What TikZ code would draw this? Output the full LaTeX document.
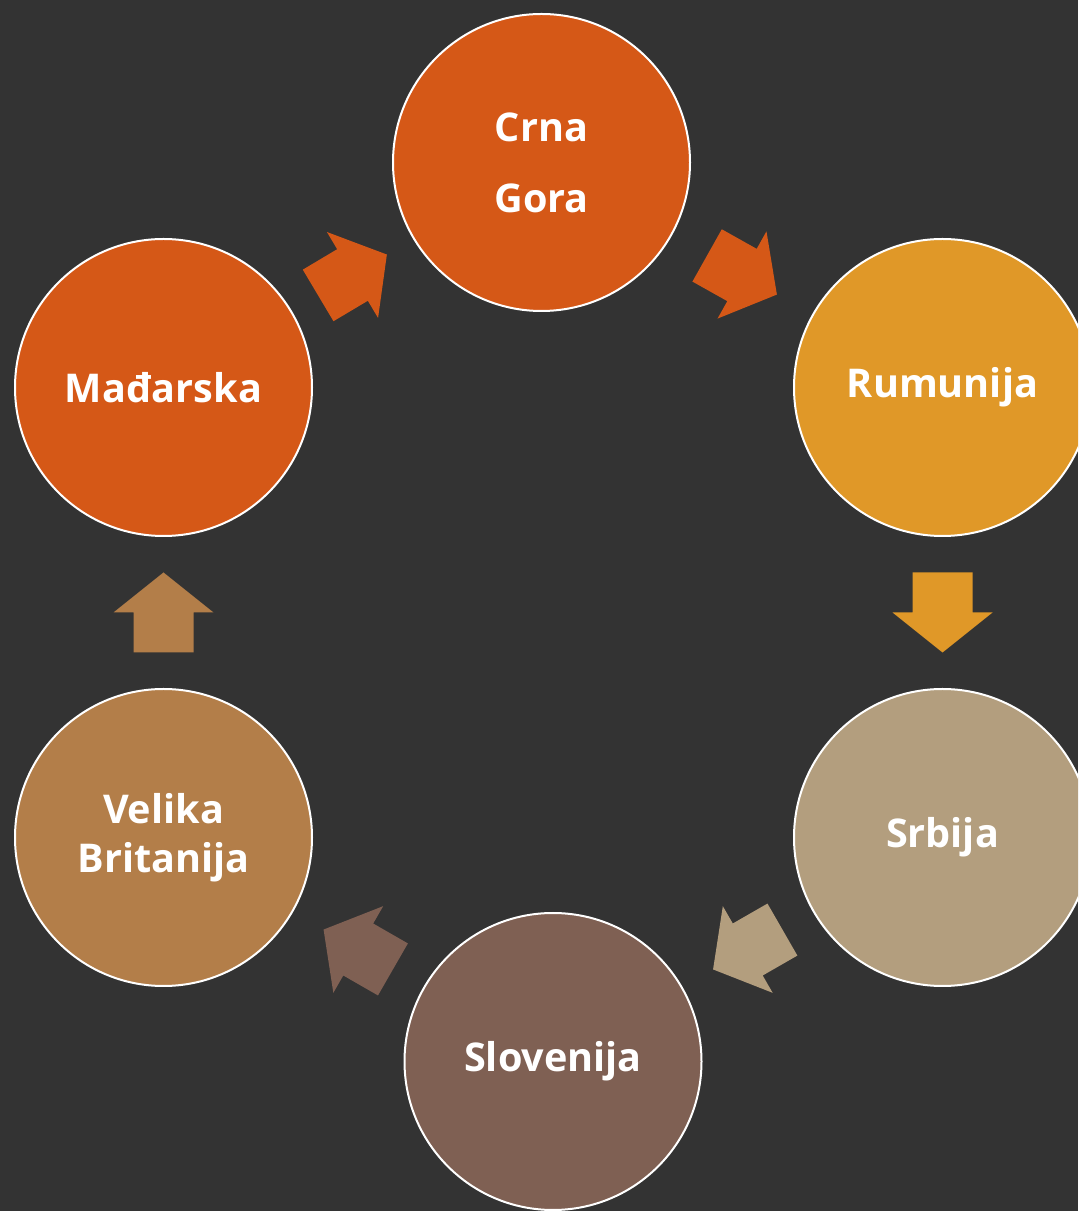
\documentclass[tikz,border=0pt]{standalone}
\usepackage{fontspec}
\setmainfont{Open Sans}
\usetikzlibrary{calc}
\definecolor{bgc}{HTML}{333333}
\definecolor{cOrange}{HTML}{D55817}
\definecolor{cGold}{HTML}{E09828}
\definecolor{cTan}{HTML}{B39E7E}
\definecolor{cBrown}{HTML}{7F6053}
\definecolor{cCaramel}{HTML}{B37E49}
\tikzset{
  country/.style={circle, draw=white, line width=1pt, minimum size=148.5pt,
    inner sep=0pt, text=white, align=center,
    font=\fontsize{19.8}{24.5}\selectfont\bfseries},
  blockarrow/.pic={\fill (-40,-30) -- (0,-30) -- (0,-50) -- (40,0) -- (0,50) -- (0,30) -- (-40,30) -- cycle;}
}
\newcommand\cyclearrow[3]{%
  \path let \p1=($(#2)-(#1)$), \n1={atan2(\y1,\x1)} in
    ($(#1)!0.5!(#2)$) pic[rotate=\n1, fill=#3]{blockarrow};}
\begin{document}
\begin{tikzpicture}[x=0.5pt,y=0.5pt]
\useasboundingbox (0,0) rectangle (1078,1211);
\clip (0,0) rectangle (1078,1211);
\fill[bgc] (0,0) rectangle (1078,1211);
\node[country, fill=cOrange] (crna) at (541.5,1048.5) {Crna\\[11pt]Gora};
\node[country, fill=cGold] (rum) at (942.5,823.5) {Rumunija};
\node[country, fill=cTan] (srb) at (942.5,373.5) {Srbija};
\node[country, fill=cBrown] (slo) at (553,149.5) {Slovenija};
\node[country, fill=cCaramel] (vb) at (163.5,373.5) {Velika\\Britanija};
\node[country, fill=cOrange] (mad) at (163.5,823.5) {Mađarska};
\cyclearrow{mad}{crna}{cOrange}
\cyclearrow{crna}{rum}{cOrange}
\cyclearrow{rum}{srb}{cGold}
\cyclearrow{srb}{slo}{cTan}
\cyclearrow{slo}{vb}{cBrown}
\cyclearrow{vb}{mad}{cCaramel}
\end{tikzpicture}
\end{document}
